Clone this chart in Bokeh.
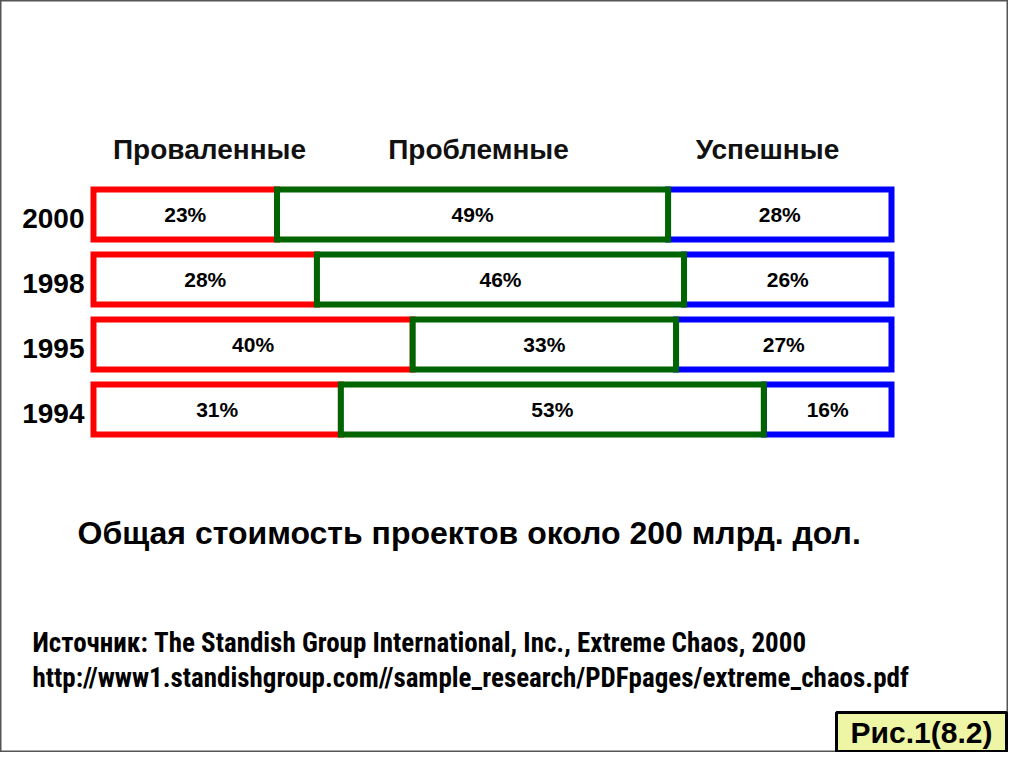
from bokeh.plotting import figure
from bokeh.models import Range1d, Label, BoxAnnotation, ColumnDataSource
from bokeh.core.properties import value
from bokeh.embed import file_html
from bokeh.resources import INLINE

# ---- data ----
years = ["2000", "1998", "1995", "1994"]
failed = [23, 28, 40, 31]        # Проваленные
challenged = [49, 46, 33, 53]    # Проблемные
succeeded = [28, 26, 27, 16]     # Успешные
series_names = ["Проваленные", "Проблемные", "Успешные"]
series_colors = ["#FF0000", "#006400", "#0000FF"]
title_text = "Общая стоимость проектов около 200 млрд. дол."
source_lines = ["Источник: The Standish Group International, Inc., Extreme Chaos, 2000",
                "http://www1.standishgroup.com//sample_research/PDFpages/extreme_chaos.pdf"]
fig_label = "Рис.1(8.2)"

W, H = 1008, 752
X0, XS = 93.0, 7.98       # pixel of 0 %, pixels per %
Y0, YS = 409.0, 65.0      # pixel (from top) of bottom row, pixels per row

def X(px):
    return (px - X0) / XS

def Y(py):
    return (Y0 - py) / YS

NARROW = "'Liberation Sans Narrow', 'Arial Narrow', 'Roboto Condensed', 'DejaVu Sans Condensed', sans-serif"

p = figure(width=W, height=H, output_backend="svg", toolbar_location=None,
           x_range=Range1d(X(0), X(W)), y_range=Range1d(Y(H), Y(0)),
           min_border=0)
p.axis.visible = False
p.grid.visible = False
p.outline_line_color = "#555555"
p.outline_line_width = 2
p.background_fill_color = "white"
p.border_fill_color = "white"

n = len(years)
row = [n - 1 - i for i in range(n)]   # 2000 at top
bh = 50.0 / YS

lefts = [[0] * n, failed, [f + c for f, c in zip(failed, challenged)]]
vals = [failed, challenged, succeeded]
order = [0, 2, 1]  # green drawn last (on top)
for k in order:
    src = ColumnDataSource(dict(
        left=lefts[k],
        right=[l + v for l, v in zip(lefts[k], vals[k])],
        top=[r + bh / 2 for r in row],
        bottom=[r - bh / 2 for r in row],
    ))
    p.quad(left="left", right="right", top="top", bottom="bottom", source=src,
           fill_color="white", line_color=series_colors[k], line_width=6,
           line_join="miter")

for k in range(3):
    src = ColumnDataSource(dict(
        x=[l + v / 2 for l, v in zip(lefts[k], vals[k])],
        y=row,
        t=["%d%%" % v for v in vals[k]],
    ))
    p.text(x="x", y="y", text="t", source=src, text_align="center",
           text_baseline="middle", text_font=value("Liberation Sans"),
           text_font_style="bold", text_font_size="21px", text_color="black")

# year labels
ysrc = ColumnDataSource(dict(x=[X(84)] * n, y=[r - 4 / YS for r in row], t=years))
p.text(x="x", y="y", text="t", source=ysrc, text_align="right",
       text_baseline="middle", text_font=value("Liberation Sans"),
       text_font_style="bold", text_font_size="28px", text_color="black")

# series headers
for name, cx in zip(series_names, [209, 478, 767]):
    p.add_layout(Label(x=X(cx), y=Y(149), text=name, text_align="center",
                       text_baseline="middle", text_font="Liberation Sans",
                       text_font_style="bold", text_font_size="28px",
                       text_color="#111111"))

p.add_layout(Label(x=X(77), y=Y(532), text=title_text, text_align="left",
                   text_baseline="middle", text_font="Liberation Sans",
                   text_font_style="bold", text_font_size="32px",
                   text_color="black"))

for i, line in enumerate(source_lines):
    p.add_layout(Label(x=X(32), y=Y(642 + 35 * i), text=line, text_align="left",
                       text_baseline="middle", text_font=NARROW,
                       text_font_style="bold", text_font_size="27px",
                       text_color="black"))

p.add_layout(BoxAnnotation(left=X(836), right=X(1006), top=Y(712), bottom=Y(751),
                           fill_color="#EEF5A5", fill_alpha=1.0,
                           line_color="black", line_width=3, line_alpha=1.0))
p.add_layout(Label(x=X(921), y=Y(732), text=fig_label, text_align="center",
                   text_baseline="middle", text_font="Liberation Sans",
                   text_font_style="bold", text_font_size="30px",
                   text_color="black"))

open("out.html", "w").write(file_html(p, INLINE))
